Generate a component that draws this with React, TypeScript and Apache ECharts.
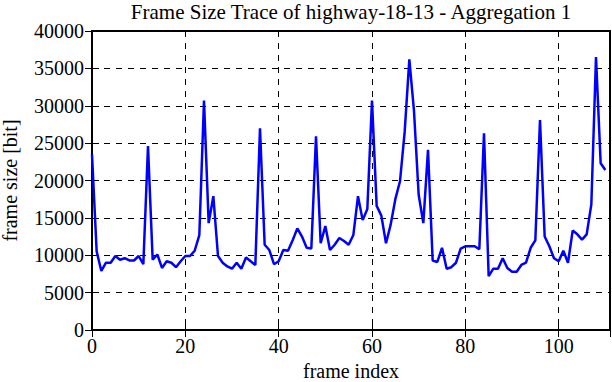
import React, { useEffect, useRef } from "react";
import * as echarts from "echarts";

const title = "Frame Size Trace of highway-18-13 - Aggregation 1";
const xName = "frame index";
const yName = "frame size [bit]";

const frameSizes: number[] = [
  23500, 10500, 7900, 9000, 9000, 9900, 9400, 9600, 9300, 9300,
  9900, 8800, 24600, 9400, 10100, 8300, 9200, 9000, 8400, 9200,
  9900, 9900, 10600, 12700, 30700, 14300, 17900, 9900, 9000, 8500,
  8200, 9000, 8200, 9700, 9200, 8700, 27000, 11400, 10700, 8800,
  9200, 10700, 10600, 12000, 13600, 12500, 11000, 10900, 25900, 11600,
  13900, 10700, 11400, 12300, 11900, 11400, 12700, 17900, 14700, 16200,
  30700, 16600, 15300, 11600, 14100, 17500, 19900, 26500, 36200, 29300,
  18100, 14300, 24100, 9300, 9100, 11000, 8200, 8400, 9000, 10900,
  11200, 11200, 11200, 10800, 26300, 7200, 8200, 8200, 9600, 8300,
  7800, 7800, 8700, 9000, 11000, 12000, 28100, 12500, 11200, 9600,
  9200, 10600, 9000, 13300, 12800, 12100, 12800, 16800, 36500, 22300,
  21400,
];

const xTicks = [0, 20, 40, 60, 80, 100];
const yTicks = [0, 5000, 10000, 15000, 20000, 25000, 30000, 35000, 40000];

export default function App() {
  const ref = useRef<HTMLDivElement>(null);
  useEffect(() => {
    if (!ref.current) return;
    const chart = echarts.init(ref.current, undefined, { renderer: "svg" });
    const font = "'Liberation Serif', 'DejaVu Serif', serif";
    const data = frameSizes.map((v, i) => [i, v]);
    const xMax = 111;
    const fmtX = (v: number) => (xTicks.includes(v) ? String(v) : "");
    const fmtY = (v: number) => (yTicks.includes(v) ? String(v) : "");
    const tick = { show: true, inside: true, length: 7, lineStyle: { color: "#000", width: 1 } };
    chart.setOption({
      animation: false,
      backgroundColor: "#fff",
      title: {
        text: title,
        left: 351,
        textAlign: "center",
        top: 1,
        padding: 0,
        textStyle: { fontFamily: font, fontSize: 21, fontWeight: "normal", color: "#000" },
      },
      grid: {
        left: 92,
        right: 2,
        top: 31,
        bottom: 52,
        show: true,
        borderColor: "#000",
        borderWidth: 2,
        containLabel: false,
        outerBoundsMode: "none",
      },
      xAxis: [
        {
          type: "value",
          min: 0,
          max: xMax,
          interval: 20,
          name: xName,
          nameLocation: "middle",
          nameGap: 31,
          nameTextStyle: { fontFamily: font, fontSize: 20, color: "#000" },
          axisLine: { show: true, lineStyle: { color: "#000", width: 2 } },
          axisTick: tick,
          axisLabel: { formatter: fmtX, fontFamily: font, fontSize: 20, color: "#000", margin: 6, showMaxLabel: false },
          splitLine: { show: true, lineStyle: { color: "#000", type: [6, 6], width: 1 } },
        },
        {
          type: "value",
          position: "top",
          min: 0,
          max: xMax,
          interval: 20,
          axisLine: { show: true, lineStyle: { color: "#000", width: 2 } },
          axisTick: tick,
          axisLabel: { show: false },
          splitLine: { show: false },
        },
      ],
      yAxis: [
        {
          type: "value",
          min: 0,
          max: 40000,
          interval: 5000,
          name: yName,
          nameLocation: "middle",
          nameGap: 72,
          nameTextStyle: { fontFamily: font, fontSize: 20, color: "#000" },
          axisLine: { show: true, lineStyle: { color: "#000", width: 2 } },
          axisTick: tick,
          axisLabel: { formatter: fmtY, fontFamily: font, fontSize: 20, color: "#000", margin: 8 },
          splitLine: { show: true, lineStyle: { color: "#000", type: [6, 6], width: 1 } },
        },
        {
          type: "value",
          position: "right",
          min: 0,
          max: 40000,
          interval: 5000,
          axisLine: { show: true, lineStyle: { color: "#000", width: 2 } },
          axisTick: tick,
          axisLabel: { show: false },
          splitLine: { show: false },
        },
      ],
      series: [
        {
          type: "line",
          data,
          xAxisIndex: 0,
          yAxisIndex: 0,
          showSymbol: false,
          symbol: "none",
          lineStyle: { color: "#0000ff", width: 2.5 },
          z: 5,
        },
      ],
    });
    return () => chart.dispose();
  }, []);
  return <div ref={ref} style={{ position: "absolute", left: 0, top: 0, width: 612, height: 382 }} />;
}
